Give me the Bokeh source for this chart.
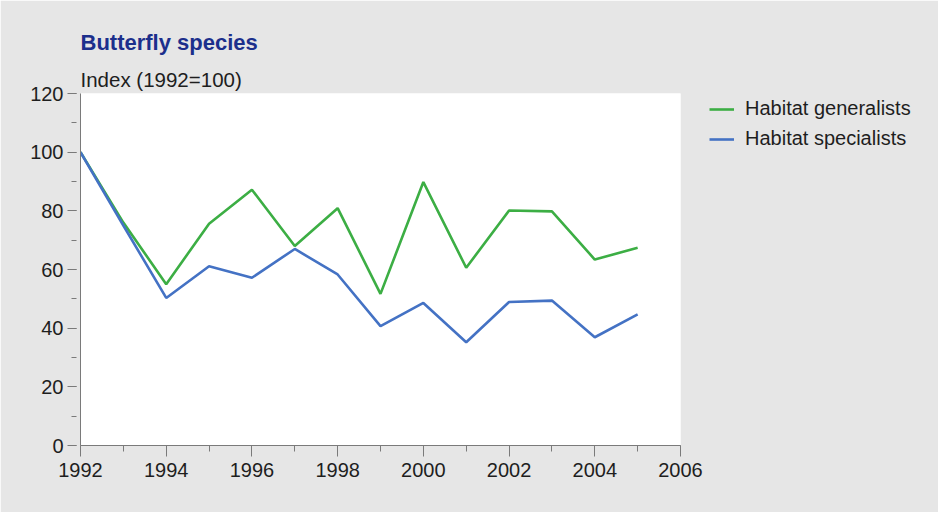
from bokeh.plotting import figure
from bokeh.models import Legend, LegendItem, Title, FixedTicker, Range1d, ColumnDataSource
from bokeh.embed import file_html
from bokeh.resources import INLINE

years = [1992, 1993, 1994, 1995, 1996, 1997, 1998, 1999, 2000, 2001, 2002, 2003, 2004, 2005]
generalists = [100, 76, 55, 75.6, 87.2, 68.0, 80.9, 51.7, 89.8, 60.6, 80.1, 79.8, 63.4, 67.4]
specialists = [100, 75, 50.3, 61.1, 57.2, 67.0, 58.3, 40.7, 48.6, 35.2, 48.9, 49.4, 36.9, 44.7]
x_ticks = [1992, 1994, 1996, 1998, 2000, 2002, 2004, 2006]
y_ticks = [0, 20, 40, 60, 80, 100, 120]

BG = "#e6e6e6"
GREEN = "#3cae44"
BLUE = "#4472c4"
TEXT = "#1e1e1e"
FONT = "Liberation Sans"

p = figure(width=922, height=512, output_backend="svg", toolbar_location=None,
           x_range=Range1d(1992, 2006), y_range=Range1d(0, 120),
           frame_width=600, frame_height=352,
           min_border_left=80, min_border_top=93, min_border_right=242, min_border_bottom=67)
p.background_fill_color = "white"
p.border_fill_color = BG
p.outline_line_color = None
p.grid.visible = False

src = ColumnDataSource(dict(year=years, gen=generalists, spec=specialists))
r_gen = p.line("year", "gen", source=src, line_color=GREEN, line_width=2.6)
r_spec = p.line("year", "spec", source=src, line_color=BLUE, line_width=2.6)

# x axis
xa = p.xaxis[0]
xa.ticker = FixedTicker(ticks=x_ticks, minor_ticks=list(range(1992, 2007)))
xa.axis_line_color = "#7a7a7a"
xa.major_tick_line_color = "#7a7a7a"
xa.minor_tick_line_color = "#7a7a7a"
xa.major_tick_in = 0
xa.major_tick_out = 11
xa.minor_tick_in = 0
xa.minor_tick_out = 6
xa.major_label_standoff = 6
xa.major_label_text_font = FONT
xa.major_label_text_font_size = "20px"
xa.major_label_text_color = TEXT

# y axis
ya = p.yaxis[0]
ya.ticker = FixedTicker(ticks=y_ticks, minor_ticks=list(range(0, 121, 10)))
ya.axis_line_color = "#7a7a7a"
ya.major_tick_line_color = "#7a7a7a"
ya.minor_tick_line_color = "#7a7a7a"
ya.major_tick_in = -4
ya.major_tick_out = 13
ya.minor_tick_in = -4
ya.minor_tick_out = 9
ya.major_label_standoff = 4
ya.major_label_text_font = FONT
ya.major_label_text_font_size = "20px"
ya.major_label_text_color = TEXT

# titles
p.title = Title(text="Butterfly species", align="left", text_font=FONT,
                text_font_size="22px", text_font_style="bold", text_color="#1c2f8c",
                standoff=18)
p.add_layout(Title(text="Index (1992=100)", align="left", text_font=FONT,
                   text_font_size="20.5px", text_font_style="normal", text_color=TEXT,
                   standoff=5), "above")

legend = Legend(items=[LegendItem(label="Habitat generalists", renderers=[r_gen]),
                       LegendItem(label="Habitat specialists", renderers=[r_spec])],
                location=(29, 295), orientation="vertical",
                background_fill_alpha=0, border_line_color=None,
                padding=0, margin=0, spacing=7, glyph_width=25, glyph_height=20,
                label_height=20, label_standoff=11,
                label_text_font=FONT, label_text_font_size="20px", label_text_color=TEXT)
p.add_layout(legend, "right")

open("out.html", "w").write(file_html(p, INLINE))
